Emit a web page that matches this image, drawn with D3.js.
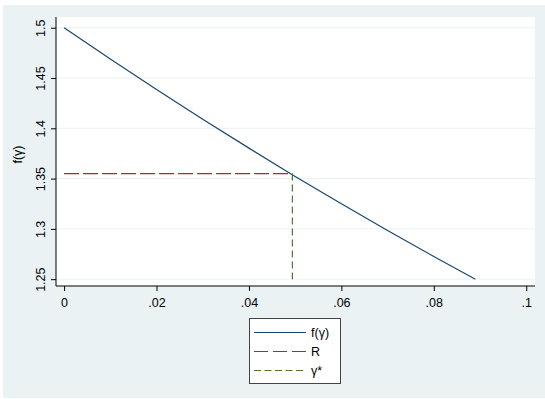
<!DOCTYPE html>
<html>
<head>
<meta charset="utf-8">
<script src="https://cdn.jsdelivr.net/npm/d3@7"></script>
<style>
  body { margin: 0; background: #fff; }
  text { font-family: "Liberation Sans", Arial, Helvetica, sans-serif; fill: #000; }
</style>
</head>
<body>
<svg id="chart" width="545" height="399"></svg>
<script>
// ---- data ----
const gammaVals = [0, 0.01, 0.02, 0.03, 0.04, 0.05, 0.06, 0.07, 0.08, 0.089];
const fVals     = [1.5, 1.469, 1.4387, 1.4091, 1.3803, 1.3522, 1.3249, 1.2984, 1.2726, 1.25];
const gammaStar = 0.0494;
const rValue    = 1.355;
const xTicks    = [0, 0.02, 0.04, 0.06, 0.08, 0.1];
const yTicks    = [1.25, 1.3, 1.35, 1.4, 1.45, 1.5];
const legendLabels = ["f(γ)", "R", "γ*"];

const navy = "#1a476f", maroon = "#90353b", green = "#55752f";

const svg = d3.select("#chart");

// outer graph region
svg.append("rect")
  .attr("x", 3).attr("y", 5)
  .attr("width", 542).attr("height", 393)
  .attr("fill", "#eaf2f3");

const plot = { left: 56, right: 535, top: 17, bottom: 286 };

const x = d3.scaleLinear()
  .domain([-0.00175, 0.1019])
  .range([plot.left, plot.right]);

const y = d3.scaleLinear()
  .domain([1.2432, 1.5107])
  .range([plot.bottom, plot.top]);

// plot region
svg.append("rect")
  .attr("x", plot.left).attr("y", plot.top)
  .attr("width", plot.right - plot.left).attr("height", plot.bottom - plot.top)
  .attr("fill", "#fff");

// grid lines
svg.append("g")
  .selectAll("line")
  .data(yTicks)
  .join("line")
  .attr("x1", plot.left).attr("x2", plot.right)
  .attr("y1", d => y(d)).attr("y2", d => y(d))
  .attr("stroke", "#eaf2f3")
  .attr("stroke-width", 1);

// y axis
const yAxis = svg.append("g")
  .attr("transform", "translate(" + plot.left + ",0)")
  .call(d3.axisLeft(y).tickValues(yTicks).tickSize(5).tickSizeOuter(0)
    .tickFormat(d => d3.format("")(d)));
yAxis.select(".domain").attr("stroke", "#000").attr("d", "M0," + plot.top + "V" + plot.bottom);
yAxis.selectAll(".tick line").attr("stroke", "#000");
yAxis.selectAll(".tick text")
  .attr("x", 0).attr("y", 0).attr("dy", 0)
  .attr("text-anchor", "middle")
  .attr("transform", "translate(-11.5,0) rotate(-90)")
  .style("font-size", "12.5px")
  .style("font-family", "Liberation Sans, Arial, sans-serif")
  .attr("fill", "#000");

// x axis
const xAxis = svg.append("g")
  .attr("transform", "translate(0," + plot.bottom + ")")
  .call(d3.axisBottom(x).tickValues(xTicks).tickSize(5).tickSizeOuter(0)
    .tickFormat(d => d === 0 ? "0" : d3.format(".2~f")(d).replace(/^0/, "")));
xAxis.select(".domain").attr("stroke", "#000").attr("d", "M" + plot.left + ",0H" + plot.right);
xAxis.selectAll(".tick line").attr("stroke", "#000");
xAxis.selectAll(".tick text")
  .attr("y", 20.5).attr("dy", 0)
  .style("font-size", "12.5px")
  .style("font-family", "Liberation Sans, Arial, sans-serif")
  .attr("fill", "#000");

// y axis title
svg.append("text")
  .attr("transform", "translate(22," + ((plot.top + plot.bottom) / 2 + 3) + ") rotate(-90)")
  .attr("text-anchor", "middle")
  .style("font-size", "12.5px")
  .text("f(γ)");

// curve
const line = d3.line()
  .x(d => x(d[0]))
  .y(d => y(d[1]));

svg.append("path")
  .datum(gammaVals.map((g, i) => [g, fVals[i]]))
  .attr("d", line)
  .attr("fill", "none")
  .attr("stroke", navy)
  .attr("stroke-width", 1.2);

// R horizontal
svg.append("line")
  .attr("x1", x(0)).attr("x2", x(gammaStar))
  .attr("y1", y(rValue)).attr("y2", y(rValue))
  .attr("stroke", maroon)
  .attr("stroke-width", 1.2)
  .attr("stroke-dasharray", "15,4");

// gamma* vertical
svg.append("line")
  .attr("x1", x(gammaStar)).attr("x2", x(gammaStar))
  .attr("y1", y(rValue)).attr("y2", y(yTicks[0]))
  .attr("stroke", green)
  .attr("stroke-width", 1.2)
  .attr("stroke-dasharray", "7,4");

// legend
const lg = svg.append("g");
lg.append("rect")
  .attr("x", 249.5).attr("y", 318.5)
  .attr("width", 91).attr("height", 65)
  .attr("fill", "#fff")
  .attr("stroke", "#444")
  .attr("stroke-width", 1);

const legendStyles = [
  { color: navy, dash: null },
  { color: maroon, dash: "14,5" },
  { color: green, dash: "7,3.5" }
];
const legendY = [332.5, 351.5, 370.5];

legendLabels.forEach((lab, i) => {
  lg.append("line")
    .attr("x1", 254).attr("x2", 306)
    .attr("y1", legendY[i]).attr("y2", legendY[i])
    .attr("stroke", legendStyles[i].color)
    .attr("stroke-width", 1.2)
    .attr("stroke-dasharray", legendStyles[i].dash);
  lg.append("text")
    .attr("x", 311).attr("y", legendY[i] + 4.5)
    .style("font-size", "12.5px")
    .text(lab);
});
</script>
</body>
</html>
